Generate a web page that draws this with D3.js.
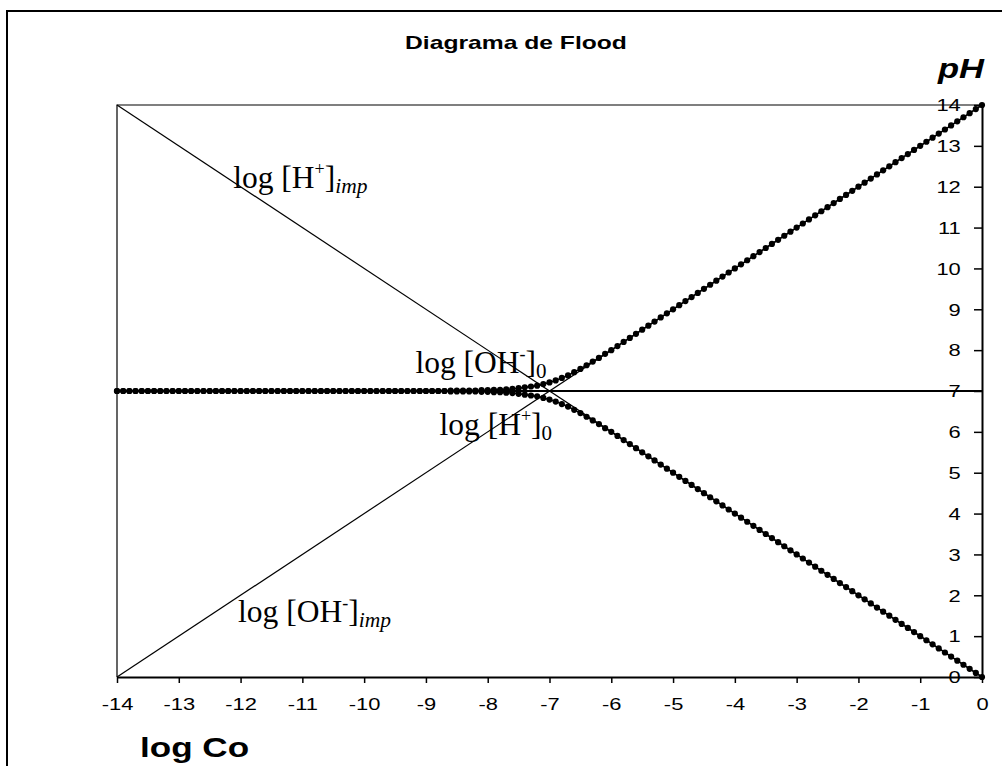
<!DOCTYPE html>
<html>
<head>
<meta charset="utf-8">
<script src="https://cdn.jsdelivr.net/npm/d3@7"></script>
<style>
  html, body { margin: 0; padding: 0; background: #fff; }
  svg { display: block; }
</style>
</head>
<body>
<svg id="chart" width="1007" height="766"></svg>
<script>
// ---------- DATA ----------
const logCo = [
  -14,-13.9,-13.8,-13.7,-13.6,-13.5,-13.4,-13.3,-13.2,-13.1,
  -13,-12.9,-12.8,-12.7,-12.6,-12.5,-12.4,-12.3,-12.2,-12.1,
  -12,-11.9,-11.8,-11.7,-11.6,-11.5,-11.4,-11.3,-11.2,-11.1,
  -11,-10.9,-10.8,-10.7,-10.6,-10.5,-10.4,-10.3,-10.2,-10.1,
  -10,-9.9,-9.8,-9.7,-9.6,-9.5,-9.4,-9.3,-9.2,-9.1,
  -9,-8.9,-8.8,-8.7,-8.6,-8.5,-8.4,-8.3,-8.2,-8.1,
  -8,-7.9,-7.8,-7.7,-7.6,-7.5,-7.4,-7.3,-7.2,-7.1,
  -7,-6.9,-6.8,-6.7,-6.6,-6.5,-6.4,-6.3,-6.2,-6.1,
  -6,-5.9,-5.8,-5.7,-5.6,-5.5,-5.4,-5.3,-5.2,-5.1,
  -5,-4.9,-4.8,-4.7,-4.6,-4.5,-4.4,-4.3,-4.2,-4.1,
  -4,-3.9,-3.8,-3.7,-3.6,-3.5,-3.4,-3.3,-3.2,-3.1,
  -3,-2.9,-2.8,-2.7,-2.6,-2.5,-2.4,-2.3,-2.2,-2.1,
  -2,-1.9,-1.8,-1.7,-1.6,-1.5,-1.4,-1.3,-1.2,-1.1,
  -1,-0.9,-0.8,-0.7,-0.6,-0.5,-0.4,-0.3,-0.2,-0.1,
  0
];
// pH of strong acid solution  (log [H+]0)
const pHAcid = [
  7,7,7,7,7,7,7,7,7,7,
  7,7,7,7,7,7,7,7,7,7,
  7,7,7,7,7,7,7,7,7,7,
  7,7,7,7,7,7,7,7,7,7,
  7,7,7,7,7,7,7,7,7,7,
  7,7,7,7,6.99,6.99,6.99,6.99,6.99,6.98,
  6.98,6.97,6.97,6.96,6.95,6.93,6.91,6.89,6.87,6.83,
  6.79,6.74,6.68,6.62,6.54,6.46,6.37,6.28,6.19,6.09,
  6.00,5.90,5.80,5.7,5.6,5.5,5.4,5.3,5.2,5.1,
  5,4.9,4.8,4.7,4.6,4.5,4.4,4.3,4.2,4.1,
  4,3.9,3.8,3.7,3.6,3.5,3.4,3.3,3.2,3.1,
  3,2.9,2.8,2.7,2.6,2.5,2.4,2.3,2.2,2.1,
  2,1.9,1.8,1.7,1.6,1.5,1.4,1.3,1.2,1.1,
  1,0.9,0.8,0.7,0.6,0.5,0.4,0.3,0.2,0.1,
  0
];
// pH of strong base solution  (log [OH-]0)
const pHBase = [
  7,7,7,7,7,7,7,7,7,7,
  7,7,7,7,7,7,7,7,7,7,
  7,7,7,7,7,7,7,7,7,7,
  7,7,7,7,7,7,7,7,7,7,
  7,7,7,7,7,7,7,7,7,7,
  7,7,7,7,7.01,7.01,7.01,7.01,7.01,7.02,
  7.02,7.03,7.03,7.04,7.05,7.07,7.09,7.11,7.13,7.17,
  7.21,7.26,7.32,7.38,7.46,7.54,7.63,7.72,7.81,7.91,
  8.00,8.10,8.20,8.3,8.4,8.5,8.6,8.7,8.8,8.9,
  9,9.1,9.2,9.3,9.4,9.5,9.6,9.7,9.8,9.9,
  10,10.1,10.2,10.3,10.4,10.5,10.6,10.7,10.8,10.9,
  11,11.1,11.2,11.3,11.4,11.5,11.6,11.7,11.8,11.9,
  12,12.1,12.2,12.3,12.4,12.5,12.6,12.7,12.8,12.9,
  13,13.1,13.2,13.3,13.4,13.5,13.6,13.7,13.8,13.9,
  14
];
// straight reference lines
const lineX = [-14, 0];
const logHimp = [14, 0];
const logOHimp = [0, 14];
const neutral = [7, 7];

const xTicks = [-14,-13,-12,-11,-10,-9,-8,-7,-6,-5,-4,-3,-2,-1,0];
const yTicks = [0,1,2,3,4,5,6,7,8,9,10,11,12,13,14];

const titleText = "Diagrama de Flood";
const xLabel = "log Co";
const yLabel = "pH";

// ---------- LAYOUT ----------
const svg = d3.select("#chart");
const pL = 117, pR = 982, pT = 105, pB = 677;
const x = d3.scaleLinear().domain([-14, 0]).range([pL, pR]);
const y = d3.scaleLinear().domain([0, 14]).range([pB, pT]);
const SANS = "'Liberation Sans', Arial, sans-serif";
const SERIF = "'Liberation Serif', 'Times New Roman', serif";
const SX = 1.37; // horizontal stretch of the sans text
const fmt = d => String(d);

// outer chart border (left + top visible)
svg.append("path")
  .attr("d", "M7,770 V11 H1002")
  .attr("fill", "none").attr("stroke", "#000").attr("stroke-width", 2);

// plot area frame (left + top thin)
svg.append("path")
  .attr("d", `M${pL},${pB} V${pT} H${pR}`)
  .attr("fill", "none").attr("stroke", "#000").attr("stroke-width", 1.2);

// axes
const xAxis = svg.append("g")
  .attr("transform", `translate(0,${pB})`)
  .call(d3.axisBottom(x).tickValues(xTicks).tickSize(6).tickSizeOuter(0).tickFormat(fmt));
xAxis.select(".domain").attr("stroke-width", 2);
xAxis.selectAll(".tick line").attr("stroke-width", 1.5);
xAxis.selectAll(".tick text")
  .attr("y", 0).attr("dy", 0)
  .attr("transform", `translate(0,33) scale(${SX},1)`)
  .attr("font-family", SANS).attr("font-size", 16).attr("fill", "#000");

const yAxis = svg.append("g")
  .attr("transform", `translate(${pR},0)`)
  .call(d3.axisLeft(y).tickValues(yTicks).tickSize(8).tickSizeOuter(0).tickFormat(fmt));
yAxis.select(".domain").attr("stroke-width", 2);
yAxis.selectAll(".tick line").attr("stroke-width", 1.5);
yAxis.selectAll(".tick text")
  .attr("x", -15.5).attr("dy", "0.36em")
  .attr("transform", `scale(${SX},1)`)
  .attr("font-family", SANS).attr("font-size", 16).attr("fill", "#000");

// thin reference lines
const line2 = d3.line().x(d => x(d[0])).y(d => y(d[1]));
[[logHimp, 1.2], [logOHimp, 1.2], [neutral, 2]].forEach(([vals, w]) => {
  svg.append("path")
    .attr("d", line2(lineX.map((v, i) => [v, vals[i]])))
    .attr("fill", "none").attr("stroke", "#000").attr("stroke-width", w);
});

// marker series
[pHAcid, pHBase].forEach(vals => {
  const pts = logCo.map((v, i) => [v, vals[i]]);
  svg.append("path")
    .attr("d", line2(pts))
    .attr("fill", "none").attr("stroke", "#000").attr("stroke-width", 1.5);
  svg.append("g").selectAll("circle").data(pts).join("circle")
    .attr("cx", d => x(d[0])).attr("cy", d => y(d[1]))
    .attr("r", 3.1).attr("fill", "#000");
});

// serif annotations
function annot(xv, yv, base, sup, sub, subItalic) {
  const t = svg.append("text")
    .attr("x", x(xv)).attr("y", y(yv))
    .attr("font-family", SERIF).attr("font-size", 31.5).attr("fill", "#000");
  t.append("tspan").text(base);
  t.append("tspan").attr("font-size", 18).attr("dy", -13).text(sup);
  t.append("tspan").attr("dy", 13).text("]");
  t.append("tspan").attr("font-size", subItalic ? 21.5 : 21).attr("dy", 5)
    .attr("font-style", subItalic ? "italic" : "normal").text(sub);
}
annot(-12.12, 11.97, "log [H", "+", "imp", true);
annot(-9.17, 7.44, "log [OH", "-", "0", false);
annot(-8.78, 5.92, "log [H", "+", "0", false);
annot(-12.04, 1.35, "log [OH", "-", "imp", true);

// title and axis names
svg.append("text")
  .attr("transform", `translate(516,49) scale(${SX},1)`)
  .attr("text-anchor", "middle")
  .attr("font-family", SANS).attr("font-weight", "bold").attr("font-size", 18)
  .text(titleText);

svg.append("text")
  .attr("transform", `translate(140,757) scale(1.3,1)`)
  .attr("font-family", SANS).attr("font-weight", "bold").attr("font-size", 27)
  .text(xLabel);

svg.append("text")
  .attr("transform", `translate(938,78) scale(1.28,1)`)
  .attr("font-family", SANS).attr("font-weight", "bold").attr("font-style", "italic").attr("font-size", 27)
  .text(yLabel);
</script>
</body>
</html>
